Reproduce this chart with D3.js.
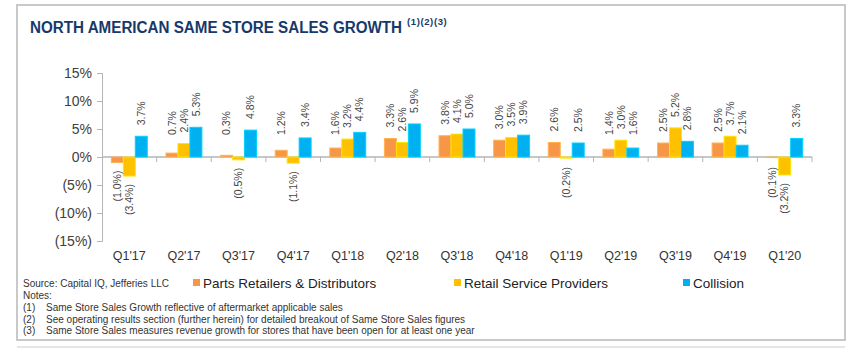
<!DOCTYPE html>
<html>
<head>
<meta charset="utf-8">
<script src="https://cdn.jsdelivr.net/npm/d3@7"></script>
<style>
  body { margin: 0; background: #fff; }
  svg { display: block; font-family: "Liberation Sans", Arial, sans-serif; }
</style>
</head>
<body>
<div id="chart"></div>
<script>
// quarters on the x axis
const quarters = ["Q1'17", "Q2'17", "Q3'17", "Q4'17", "Q1'18", "Q2'18", "Q3'18",
                  "Q4'18", "Q1'19", "Q2'19", "Q3'19", "Q4'19", "Q1'20"];
// same store sales growth, %
const partsRetailers   = [-1.0, 0.7, 0.3, 1.2, 1.6, 3.3, 3.8, 3.0, 2.6, 1.4, 2.5, 2.5, -0.1];
const retailService    = [-3.4, 2.4, -0.5, -1.1, 3.2, 2.6, 4.1, 3.5, -0.2, 3.0, 5.2, 3.7, -3.2];
const collision        = [3.7, 5.3, 4.8, 3.4, 4.4, 5.9, 5.0, 3.9, 2.5, 1.6, 2.8, 2.1, 3.3];
const seriesNames = ["Parts Retailers & Distributors", "Retail Service Providers", "Collision"];
const seriesColors = ["#F79646", "#FFC000", "#00B0F0"];
const yTicks = [-15, -10, -5, 0, 5, 10, 15];
const notes = [
  ["(1)", "Same Store Sales Growth reflective of aftermarket applicable sales"],
  ["(2)", "See operating results section (further herein) for detailed breakout of Same Store Sales figures"],
  ["(3)", "Same Store Sales measures revenue growth for stores that have been open for at least one year"]
];

const W = 859, H = 348;
const svg = d3.select("#chart").append("svg").attr("width", W).attr("height", H);

// frame
svg.append("rect")
    .attr("x", 17).attr("y", 5).attr("width", 828).attr("height", 335)
    .style("fill", "none").style("stroke", "#c9c9c9").style("stroke-width", 2);
svg.append("line")
    .attr("x1", 17).attr("x2", 845).attr("y1", 347).attr("y2", 347)
    .style("stroke", "#dcdcdc").style("stroke-width", 1.5);

// title: narrower font faked with a vertical stretch
let title = svg.append("text")
    .attr("transform", "translate(30,33) scale(1,1.13)")
    .style("font-family", "'Liberation Sans', Arial, sans-serif")
    .style("font-weight", "bold")
    .style("font-size", "15.2px")
    .style("fill", "#17396a")
    .text("NORTH AMERICAN SAME STORE SALES GROWTH");
let tw = title.node().getComputedTextLength();
svg.append("text")
    .attr("x", 30 + tw + 5).attr("y", 25)
    .style("font-family", "'Liberation Sans', Arial, sans-serif")
    .style("font-weight", "bold")
    .style("font-size", "9.5px")
    .style("letter-spacing", "0.6px")
    .style("fill", "#17396a")
    .text("(1)(2)(3)");

// scales
const x = d3.scaleBand().domain(quarters).range([102, 812]).padding(0);
const xSub = d3.scaleBand().domain(seriesNames).range([0, x.bandwidth()])
    .paddingInner(0).paddingOuter(0.78);
const y = d3.scaleLinear().domain([-15, 15]).range([241, 73]);

const pct = v => v < 0 ? "(" + Math.abs(v) + "%)" : v + "%";
const pct1 = v => v < 0 ? "(" + Math.abs(v).toFixed(1) + "%)" : v.toFixed(1) + "%";

// y axis
let yAxis = svg.append("g")
    .attr("transform", "translate(102,0)")
    .call(d3.axisLeft(y).tickValues(yTicks).tickFormat(pct).tickSize(5).tickPadding(5));
yAxis.select(".domain").style("stroke", "#b5b5b5");
yAxis.selectAll(".tick line").style("stroke", "#b5b5b5");
yAxis.selectAll(".tick text")
    .style("font-family", "'Liberation Sans', Arial, sans-serif")
    .style("font-size", "14px").style("fill", "#404040");

// x axis line at zero with ticks at category boundaries
svg.append("line")
    .attr("x1", x.range()[0]).attr("x2", x.range()[1])
    .attr("y1", y(0)).attr("y2", y(0))
    .style("stroke", "#b5b5b5").style("stroke-width", 1.5);
svg.append("g").selectAll("line")
    .data(quarters)
    .enter().append("line")
    .attr("x1", d => x(d) + x.bandwidth()).attr("x2", d => x(d) + x.bandwidth())
    .attr("y1", y(0)).attr("y2", y(0) + 5)
    .style("stroke", "#b5b5b5");

// x labels
svg.append("g").selectAll("text")
    .data(quarters)
    .enter().append("text")
    .attr("x", d => x(d) + x.bandwidth() / 2)
    .attr("y", 260)
    .attr("text-anchor", "middle")
    .style("font-size", "12.5px").style("fill", "#333")
    .text(d => d);

// bars
const rows = [];
[partsRetailers, retailService, collision].forEach((vals, si) => {
    vals.forEach((v, qi) => rows.push({q: quarters[qi], s: seriesNames[si], c: seriesColors[si], v: v}));
});

let bars = svg.append("g").attr("id", "bars");
bars.selectAll("rect").data(rows).enter()
    .append("rect")
    .attr("x", d => x(d.q) + xSub(d.s))
    .attr("y", d => Math.min(y(d.v), y(0)))
    .attr("width", xSub.bandwidth())
    .attr("height", d => Math.abs(y(d.v) - y(0)))
    .style("fill", d => d.c)
    .style("stroke", d => d3.color(d.c).brighter(0.5))
    .style("stroke-width", 1);

// value labels, rotated
bars.selectAll("text").data(rows).enter()
    .append("text")
    .attr("transform", d => {
        let cx = x(d.q) + xSub(d.s) + xSub.bandwidth() / 2;
        let ly = d.v >= 0 ? Math.min(y(d.v), y(0) - 11) - 11 : Math.max(y(d.v) + 8, y(0) + 10);
        return "translate(" + cx + "," + ly + ") rotate(-90)";
    })
    .attr("text-anchor", d => d.v >= 0 ? "start" : "end")
    .attr("dy", "0.35em")
    .style("font-size", "10.5px")
    .style("fill", "#444")
    .text(d => pct1(d.v));

// legend
const legendX = [193, 454, 683];
let legend = svg.append("g").selectAll("g").data(seriesNames).enter().append("g")
    .attr("transform", (d, i) => "translate(" + legendX[i] + ",279)");
legend.append("rect")
    .attr("width", 7).attr("height", 7)
    .style("fill", (d, i) => seriesColors[i]);
legend.append("text")
    .attr("x", 10).attr("y", 8.5)
    .style("font-size", "13.5px").style("fill", "#222")
    .text(d => d);

// source + notes
svg.append("text")
    .attr("x", 23).attr("y", 287)
    .style("font-size", "10px").style("fill", "#333")
    .text("Source: Capital IQ, Jefferies LLC");
svg.append("text")
    .attr("x", 23).attr("y", 299)
    .style("font-size", "10px").style("fill", "#333")
    .text("Notes:");
let noteRows = svg.append("g").selectAll("g").data(notes).enter().append("g")
    .attr("transform", (d, i) => "translate(0," + (311 + i * 11.5) + ")");
noteRows.append("text").attr("x", 23)
    .style("font-size", "10px").style("fill", "#333").text(d => d[0]);
noteRows.append("text").attr("x", 46)
    .style("font-size", "10px").style("fill", "#333").text(d => d[1]);
</script>
</body>
</html>
